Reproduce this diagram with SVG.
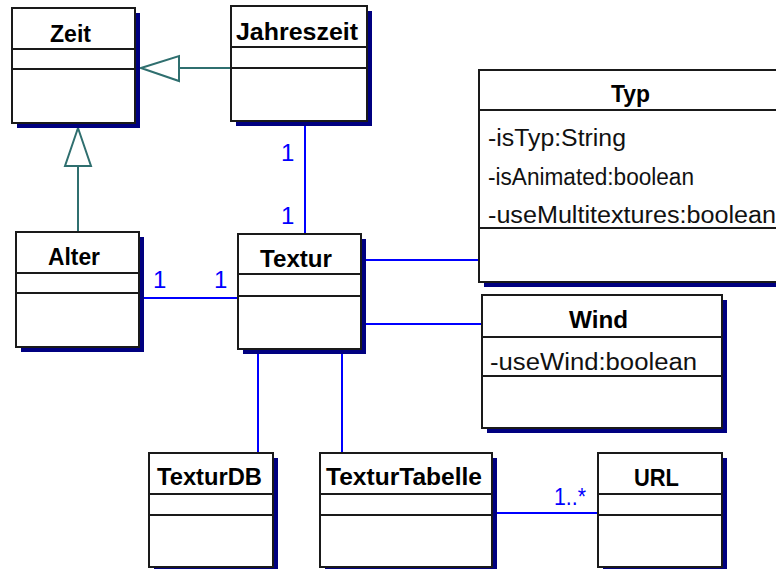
<svg xmlns="http://www.w3.org/2000/svg" width="776" height="569" viewBox="0 0 776 569">
<style>
.box{fill:#fff;stroke:#1a1a1a;stroke-width:2}
.sh{fill:#000080}
.sep{stroke:#1a1a1a;stroke-width:2}
.hd{font-family:"Liberation Sans",Arial,sans-serif;font-weight:bold;font-size:23px;fill:#000}
.at{font-family:"Liberation Sans",Arial,sans-serif;font-size:23px;fill:#111}
.assoc{stroke:#0000ff;stroke-width:2;fill:none}
.gen{stroke:#2f6f6f;stroke-width:2;fill:none}
.tri{stroke:#2f6f6f;stroke-width:2;fill:#fff}
.ml{font-family:"Liberation Sans",Arial,sans-serif;font-size:24px;fill:#0000ff}
</style>
<rect width="776" height="569" fill="#fff"/>
<g id="connectors">
<line class="gen" x1="231" y1="68" x2="179" y2="68"/>
<polygon class="tri" points="141,68 179,56 179,81"/>
<line class="gen" x1="78" y1="232" x2="78" y2="166"/>
<polygon class="tri" points="78,128 65,166 91,166"/>
<line class="assoc" x1="305" y1="126" x2="305" y2="234"/>
<line class="assoc" x1="144" y1="298" x2="238" y2="298"/>
<line class="assoc" x1="366" y1="260" x2="479" y2="260"/>
<line class="assoc" x1="366" y1="324" x2="482" y2="324"/>
<line class="assoc" x1="258" y1="354" x2="258" y2="453"/>
<line class="assoc" x1="342" y1="354" x2="342" y2="453"/>
<line class="assoc" x1="497" y1="513" x2="598" y2="513"/>
<text class="ml" x="281" y="161">1</text>
<text class="ml" x="281" y="224">1</text>
<text class="ml" x="153" y="288">1</text>
<text class="ml" x="214" y="288">1</text>
<text class="ml" x="554" y="505" textLength="32" lengthAdjust="spacingAndGlyphs">1..*</text>
</g>
<g id="Zeit">
<rect class="sh" x="17" y="13" width="123" height="115"/>
<rect class="box" x="12" y="8" width="123" height="115"/>
<line class="sep" x1="12" y1="49" x2="135" y2="49"/>
<line class="sep" x1="12" y1="69" x2="135" y2="69"/>
<text class="hd" x="50" y="42" textLength="41" lengthAdjust="spacingAndGlyphs">Zeit</text>
</g>
<g id="Jahreszeit">
<rect class="sh" x="236" y="11" width="136" height="115"/>
<rect class="box" x="231" y="6" width="136" height="115"/>
<line class="sep" x1="231" y1="47" x2="367" y2="47"/>
<line class="sep" x1="231" y1="68" x2="367" y2="68"/>
<text class="hd" x="236" y="40" textLength="122" lengthAdjust="spacingAndGlyphs">Jahreszeit</text>
</g>
<g id="Typ">
<rect class="sh" x="484" y="75" width="302" height="212"/>
<rect class="box" x="479" y="70" width="302" height="212"/>
<line class="sep" x1="479" y1="110" x2="781" y2="110"/>
<line class="sep" x1="479" y1="228" x2="781" y2="228"/>
<text class="hd" x="611" y="102" textLength="39" lengthAdjust="spacingAndGlyphs">Typ</text>
<text class="at" x="488" y="146" textLength="138" lengthAdjust="spacingAndGlyphs">-isTyp:String</text>
<text class="at" x="488" y="185" textLength="206" lengthAdjust="spacingAndGlyphs">-isAnimated:boolean</text>
<text class="at" x="488" y="223" textLength="288" lengthAdjust="spacingAndGlyphs">-useMultitextures:boolean</text>
</g>
<g id="Alter">
<rect class="sh" x="21" y="237" width="123" height="115"/>
<rect class="box" x="16" y="232" width="123" height="115"/>
<line class="sep" x1="16" y1="273" x2="139" y2="273"/>
<line class="sep" x1="16" y1="293" x2="139" y2="293"/>
<text class="hd" x="48" y="265" textLength="52" lengthAdjust="spacingAndGlyphs">Alter</text>
</g>
<g id="Textur">
<rect class="sh" x="243" y="239" width="123" height="115"/>
<rect class="box" x="238" y="234" width="123" height="115"/>
<line class="sep" x1="238" y1="274" x2="361" y2="274"/>
<line class="sep" x1="238" y1="296" x2="361" y2="296"/>
<text class="hd" x="260" y="267" textLength="72" lengthAdjust="spacingAndGlyphs">Textur</text>
</g>
<g id="Wind">
<rect class="sh" x="487" y="300" width="240" height="133"/>
<rect class="box" x="482" y="295" width="240" height="133"/>
<line class="sep" x1="482" y1="337" x2="722" y2="337"/>
<line class="sep" x1="482" y1="376" x2="722" y2="376"/>
<text class="hd" x="569" y="328" textLength="59" lengthAdjust="spacingAndGlyphs">Wind</text>
<text class="at" x="490" y="370" textLength="207" lengthAdjust="spacingAndGlyphs">-useWind:boolean</text>
</g>
<g id="TexturDB">
<rect class="sh" x="154" y="458" width="124" height="114"/>
<rect class="box" x="149" y="453" width="124" height="114"/>
<line class="sep" x1="149" y1="494" x2="273" y2="494"/>
<line class="sep" x1="149" y1="515" x2="273" y2="515"/>
<text class="hd" x="157" y="485" textLength="105" lengthAdjust="spacingAndGlyphs">TexturDB</text>
</g>
<g id="TexturTabelle">
<rect class="sh" x="325" y="458" width="172" height="114"/>
<rect class="box" x="320" y="453" width="172" height="114"/>
<line class="sep" x1="320" y1="494" x2="492" y2="494"/>
<line class="sep" x1="320" y1="515" x2="492" y2="515"/>
<text class="hd" x="326" y="485" textLength="156" lengthAdjust="spacingAndGlyphs">TexturTabelle</text>
</g>
<g id="URL">
<rect class="sh" x="603" y="458" width="124" height="114"/>
<rect class="box" x="598" y="453" width="124" height="114"/>
<line class="sep" x1="598" y1="494" x2="722" y2="494"/>
<line class="sep" x1="598" y1="515" x2="722" y2="515"/>
<text class="hd" x="634" y="486" textLength="45" lengthAdjust="spacingAndGlyphs">URL</text>
</g>
</svg>
